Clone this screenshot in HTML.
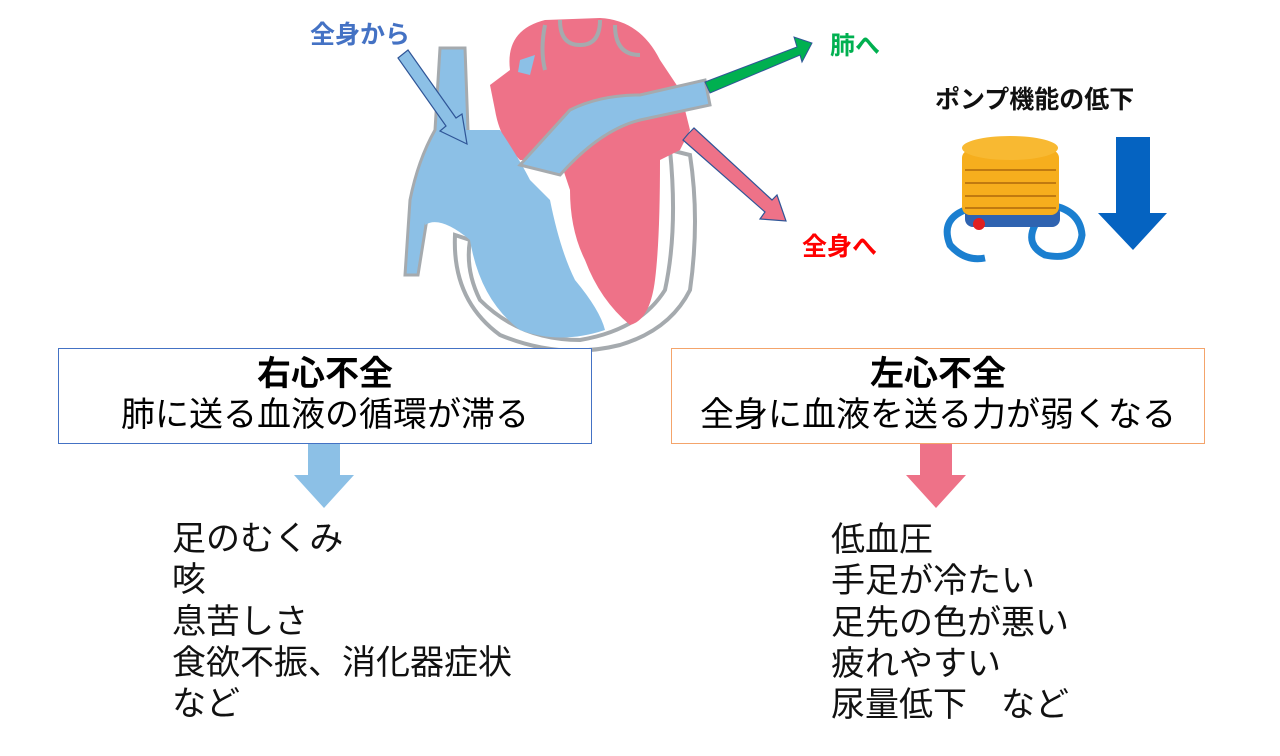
<!DOCTYPE html>
<html><head><meta charset="utf-8"><style>
body{margin:0;width:1280px;height:756px;background:#fff;position:relative;overflow:hidden;font-family:"Liberation Sans","Noto Sans CJK JP",sans-serif}
.a{position:absolute;white-space:nowrap}
.box{position:absolute;top:348px;height:94px;width:532px;text-align:center;background:#fff}
.box b{display:block;font-size:34px;margin-top:5px;line-height:40px}
.box span{display:block;font-size:34px;line-height:42px}
.list{position:absolute;font-size:34px;line-height:41.3px;color:#111}
</style></head><body>
<svg class="a" style="left:0;top:0" width="1280" height="756">
<!-- heart outline -->
<path d="M455 235 Q452 300 500 335 Q560 360 620 345 Q670 330 690 290 Q700 220 690 155 L670 150 Q678 230 665 290 Q640 330 580 340 Q520 340 480 300 Q465 270 470 240 Z" fill="#fff" stroke="#a5aaae" stroke-width="4"/>
<!-- red -->
<path d="M490 85 L510 70 Q505 30 545 20 L600 18 Q640 20 660 60 L680 90 L690 130 L680 150 L660 160 Q660 240 655 280 Q650 320 630 325 Q600 300 585 260 Q570 230 570 190 L560 160 L520 160 Q500 140 495 110 Z" fill="#ee7288"/>
<g stroke="#a5aaae" stroke-width="4" fill="none"><path d="M560 20 Q560 45 580 45 Q600 45 600 20"/><path d="M615 25 Q615 55 640 55"/><path d="M545 25 Q540 50 545 70"/></g>
<!-- blue vessel -->
<path d="M440 48 L465 48 L468 130 Q440 160 430 200 L418 275 L405 275 L410 200 Q418 160 435 130 Z" fill="#8cc0e6" stroke="#a5aaae" stroke-width="3"/>
<!-- blue chamber -->
<path d="M440 130 L500 130 Q520 160 530 180 L550 200 Q560 250 575 280 Q600 310 605 330 Q560 345 520 330 Q480 300 470 240 Q440 215 425 225 Q420 180 440 130 Z" fill="#8cc0e6"/>
<!-- pulmonary artery -->
<path d="M520 165 L570 110 Q600 95 640 95 L705 80 L710 105 L640 120 Q600 130 560 175 Z" fill="#8cc0e6" stroke="#a5aaae" stroke-width="3"/>
<path d="M520 60 L535 55 L530 75 L518 72 Z" fill="#8cc0e6"/>
<!-- arrows -->
<polygon points="398,58 408,50 456,118 462,114 467,144 440,131 446,126" fill="#8cc0e6" stroke="#2f5597" stroke-width="1.2"/>
<polygon points="705,82 797,47 794,37 812,43 802,62 800,55 710,93" fill="#00b050" stroke="#2f5597" stroke-width="1"/>
<polygon points="688,134 694,128 772,200 777,195 786,221 760,219 765,212 683,140" fill="#ee7288" stroke="#2f5597" stroke-width="1.2"/>
<!-- pump -->
<path d="M965 210 Q940 220 950 245 Q965 262 985 258" fill="none" stroke="#1b7fd0" stroke-width="7"/>
<path d="M1050 205 Q1080 210 1082 235 Q1078 262 1045 255 Q1025 245 1035 225" fill="none" stroke="#1b7fd0" stroke-width="7"/>
<rect x="965" y="205" width="95" height="22" rx="8" fill="#2f63b0"/>
<rect x="962" y="150" width="97" height="65" rx="8" fill="#f6ae1d"/>
<ellipse cx="1010" cy="148" rx="48" ry="12" fill="#f8b932"/>
<g stroke="#c07a10" stroke-width="2"><line x1="965" y1="170" x2="1056" y2="170"/><line x1="965" y1="183" x2="1056" y2="183"/><line x1="965" y1="196" x2="1056" y2="196"/><line x1="965" y1="208" x2="1056" y2="208"/></g>
<circle cx="979" cy="224" r="6" fill="#e02020"/>
<polygon points="1116,137 1150,137 1150,213 1167,213 1133,250 1098,213 1116,213" fill="#0563c1"/>
<!-- down arrows -->
<polygon points="308,443 340,443 340,475 354,475 324,508 294,475 308,475" fill="#8cc0e6"/>
<polygon points="920,443 952,443 952,475 966,475 936,508 906,475 920,475" fill="#ee7288"/>
</svg>
<div class="a" style="left:310px;top:15px;font-size:25px;font-weight:bold;color:#4472c4">全身から</div>
<div class="a" style="left:830px;top:26px;font-size:25px;font-weight:bold;color:#00b050">肺へ</div>
<div class="a" style="left:802px;top:227px;font-size:25px;font-weight:bold;color:#ff0000">全身へ</div>
<div class="a" style="left:935px;top:80px;font-size:25px;font-weight:bold;color:#111">ポンプ機能の低下</div>
<div class="box" style="left:58px;border:1.5px solid #4472c4"><b>右心不全</b><span>肺に送る血液の循環が滞る</span></div>
<div class="box" style="left:671px;border:1.5px solid #f4a46b"><b>左心不全</b><span>全身に血液を送る力が弱くなる</span></div>
<div class="list" style="left:172px;top:519px">足のむくみ<br>咳<br>息苦しさ<br>食欲不振、消化器症状<br>など</div>
<div class="list" style="left:831px;top:520px">低血圧<br>手足が冷たい<br>足先の色が悪い<br>疲れやすい<br>尿量低下　など</div>
</body></html>
